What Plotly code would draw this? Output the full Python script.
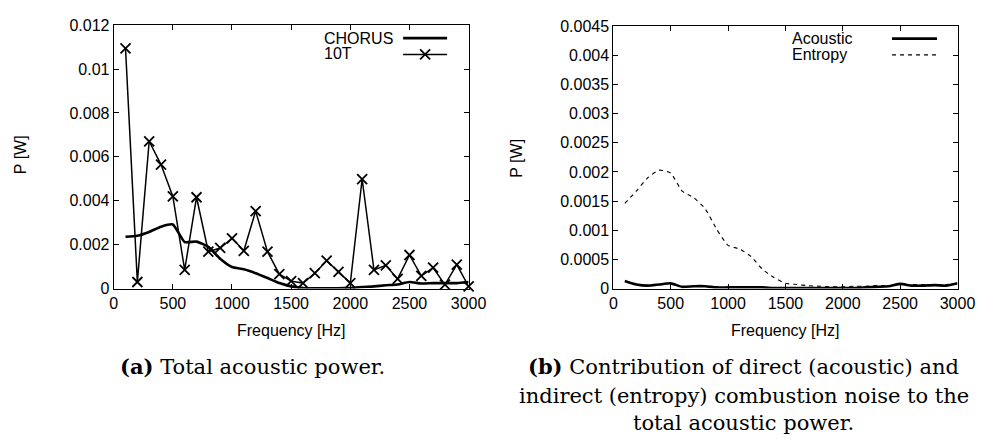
import plotly.graph_objects as go

# ---------------- data ----------------
freq = [100, 200, 300, 400, 500, 600, 700, 800, 900, 1000,
        1100, 1200, 1300, 1400, 1500, 1600, 1700, 1800, 1900, 2000,
        2100, 2200, 2300, 2400, 2500, 2600, 2700, 2800, 2900, 3000]

chorus = [0.00236, 0.00241, 0.00258, 0.00282, 0.00292, 0.00212, 0.00214, 0.00190, 0.00136, 0.00098,
          0.00088, 0.00070, 0.00048, 0.00025, 0.00010, 0.00003, 0.00001, 0.00001, 0.00001, 0.00003,
          0.00007, 0.00010, 0.00015, 0.00019, 0.00030, 0.00023, 0.00025, 0.00025, 0.00025, 0.00030]

t10 = [0.01094, 0.00030, 0.00671, 0.00565, 0.00420, 0.00085, 0.00416, 0.00168, 0.00185, 0.00229,
       0.00172, 0.00353, 0.00168, 0.00066, 0.00034, 0.00025, 0.00070, 0.00127, 0.00076, 0.00025,
       0.00499, 0.00085, 0.00106, 0.00044, 0.00153, 0.00058, 0.00095, 0.00018, 0.00109, 0.00010]

acoustic = [0.00013, 0.00007, 0.00005, 0.00007, 0.00009, 0.00003, 0.00004, 0.00004, 0.00002, 0.00002,
            0.00002, 0.00002, 0.00002, 0.00001, 0.00001, 0.00001, 0.00001, 0.00001, 0.00001, 0.00001,
            0.00001, 0.00002, 0.00003, 0.00004, 0.00008, 0.00005, 0.00005, 0.00006, 0.00005, 0.00009]

entropy = [0.00146, 0.00167, 0.00190, 0.00203, 0.00198, 0.00167, 0.00156, 0.00137, 0.00102, 0.00074,
           0.00068, 0.00055, 0.00033, 0.00019, 0.00009, 0.00007, 0.00005, 0.00004, 0.00003, 0.00003,
           0.00004, 0.00004, 0.00005, 0.00005, 0.00007, 0.00007, 0.00007, 0.00007, 0.00007, 0.00008]

x_ticks = [0, 500, 1000, 1500, 2000, 2500, 3000]
x_labels = ["0", "500", "1000", "1500", "2000", "2500", "3000"]
y1_ticks = [0, 0.002, 0.004, 0.006, 0.008, 0.01, 0.012]
y1_labels = ["0", "0.002", "0.004", "0.006", "0.008", "0.01", "0.012"]
y2_ticks = [0, 0.0005, 0.001, 0.0015, 0.002, 0.0025, 0.003, 0.0035, 0.004, 0.0045]
y2_labels = ["0", "0.0005", "0.001", "0.0015", "0.002", "0.0025", "0.003", "0.0035", "0.004", "0.0045"]

names_a = ["CHORUS", "10T"]
names_b = ["Acoustic", "Entropy"]
xlabel = "Frequency [Hz]"
ylabel = "P [W]"
caption_a = "<b>(a)</b> Total acoustic power."
caption_b_lines = ["<b>(b)</b> Contribution of direct (acoustic) and",
                   "indirect (entropy) combustion noise to the",
                   "total acoustic power."]

# ---------------- layout helpers ----------------
# The page body has an 8px margin, so the figure is drawn offset by OFF
# pixels; coordinates below are window pixels.
OFF = 8
W, H = 998 - OFF, 442 - OFF
SANS = "Liberation Sans, Arial, sans-serif"
SERIF = "DejaVu Serif, serif"


def fx(p):
    return (p - OFF) / W


def fy(p):
    return 1 - (p - OFF) / H


fig = go.Figure()

# panel (a)
fig.add_trace(go.Scatter(x=freq, y=chorus, mode="lines", name=names_a[0],
                         line=dict(color="black", width=2.6, shape="spline", smoothing=0.5),
                         xaxis="x", yaxis="y", showlegend=False))
fig.add_trace(go.Scatter(x=freq, y=t10, mode="lines+markers", name=names_a[1],
                         line=dict(color="black", width=1.5),
                         marker=dict(symbol="x-thin", size=10, color="black",
                                     line=dict(color="black", width=1.8)),
                         xaxis="x", yaxis="y", showlegend=False, cliponaxis=False))

# panel (b)
fig.add_trace(go.Scatter(x=freq, y=acoustic, mode="lines", name=names_b[0],
                         line=dict(color="black", width=2.6, shape="spline", smoothing=0.5),
                         xaxis="x2", yaxis="y2", showlegend=False))
fig.add_trace(go.Scatter(x=freq, y=entropy, mode="lines", name=names_b[1],
                         line=dict(color="black", width=1.1, dash="4px,4px", shape="spline", smoothing=0.5),
                         xaxis="x2", yaxis="y2", showlegend=False))

# legend samples (window-pixel overlay axes)
fig.add_trace(go.Scatter(x=[408, 453], y=[31, 31], mode="lines",
                         line=dict(color="black", width=2.6),
                         xaxis="x3", yaxis="y3", showlegend=False, hoverinfo="skip"))
fig.add_trace(go.Scatter(x=[408, 453], y=[48, 48], mode="lines",
                         line=dict(color="black", width=1.5),
                         xaxis="x3", yaxis="y3", showlegend=False, hoverinfo="skip"))
fig.add_trace(go.Scatter(x=[430.5], y=[48], mode="markers",
                         marker=dict(symbol="x-thin", size=10, color="black",
                                     line=dict(color="black", width=1.8)),
                         xaxis="x3", yaxis="y3", showlegend=False, hoverinfo="skip"))
fig.add_trace(go.Scatter(x=[908, 954], y=[31.5, 31.5], mode="lines",
                         line=dict(color="black", width=2.6),
                         xaxis="x3", yaxis="y3", showlegend=False, hoverinfo="skip"))
fig.add_trace(go.Scatter(x=[908, 954], y=[48.5, 48.5], mode="lines",
                         line=dict(color="black", width=1.1, dash="4px,4px"),
                         xaxis="x3", yaxis="y3", showlegend=False, hoverinfo="skip"))

axis_common = dict(showline=True, linecolor="black", linewidth=1, mirror="allticks",
                   ticks="inside", ticklen=5, tickwidth=1, tickcolor="black",
                   tickfont=dict(family=SANS, size=16, color="black"),
                   showgrid=False, zeroline=False)

fig.update_layout(
    width=W, height=H,
    margin=dict(l=0, r=0, t=0, b=0),
    paper_bgcolor="white", plot_bgcolor="rgba(0,0,0,0)",
    xaxis=dict(domain=[fx(112), fx(475)], range=[0, 3000], anchor="y",
               tickvals=x_ticks, ticktext=x_labels, **axis_common),
    yaxis=dict(domain=[fy(291.7), fy(17.5)], range=[0, 0.012], anchor="x",
               tickvals=y1_ticks, ticktext=y1_labels, **axis_common),
    xaxis2=dict(domain=[fx(623), fx(975)], range=[0, 3000], anchor="y2",
                tickvals=x_ticks, ticktext=x_labels, **axis_common),
    yaxis2=dict(domain=[fy(291.7), fy(18.5)], range=[0, 0.0045], anchor="x2",
                tickvals=y2_ticks, ticktext=y2_labels, **axis_common),
    xaxis3=dict(domain=[0, 1], range=[OFF, OFF + W], anchor="y3", visible=False, fixedrange=True),
    yaxis3=dict(domain=[0, 1], range=[OFF + H, OFF], anchor="x3", visible=False, fixedrange=True),
)

ann = []
# axis titles
for cx in (293.5, 799):
    ann.append(dict(text=xlabel, x=fx(cx), y=fy(335), xref="paper", yref="paper",
                    xanchor="center", yanchor="middle", showarrow=False,
                    font=dict(family=SANS, size=16, color="black")))
for cx, cy in ((17, 152), (524, 156)):
    ann.append(dict(text=ylabel, x=fx(cx), y=fy(cy), xref="paper", yref="paper",
                    xanchor="center", yanchor="middle", showarrow=False, textangle=-90,
                    font=dict(family=SANS, size=16, color="black")))
# legend texts
for txt, lx, ly in ((names_a[0], 325, 31), (names_a[1], 325, 47),
                    (names_b[0], 804, 31.5), (names_b[1], 804, 48.5)):
    ann.append(dict(text=txt, x=fx(lx), y=fy(ly), xref="paper", yref="paper",
                    xanchor="left", yanchor="middle", showarrow=False,
                    font=dict(family=SANS, size=16, color="black")))
# captions
ann.append(dict(text=caption_a, x=fx(253.5), y=fy(373), xref="paper", yref="paper",
                xanchor="center", yanchor="middle", showarrow=False,
                font=dict(family=SERIF, size=21, color="black")))
for line, cy in zip(caption_b_lines, (373, 403.5, 432)):
    ann.append(dict(text=line, x=fx(756.5), y=fy(cy), xref="paper", yref="paper",
                    xanchor="center", yanchor="middle", showarrow=False,
                    font=dict(family=SERIF, size=21, color="black")))
fig.update_layout(annotations=ann)

fig.write_html("out.html")
